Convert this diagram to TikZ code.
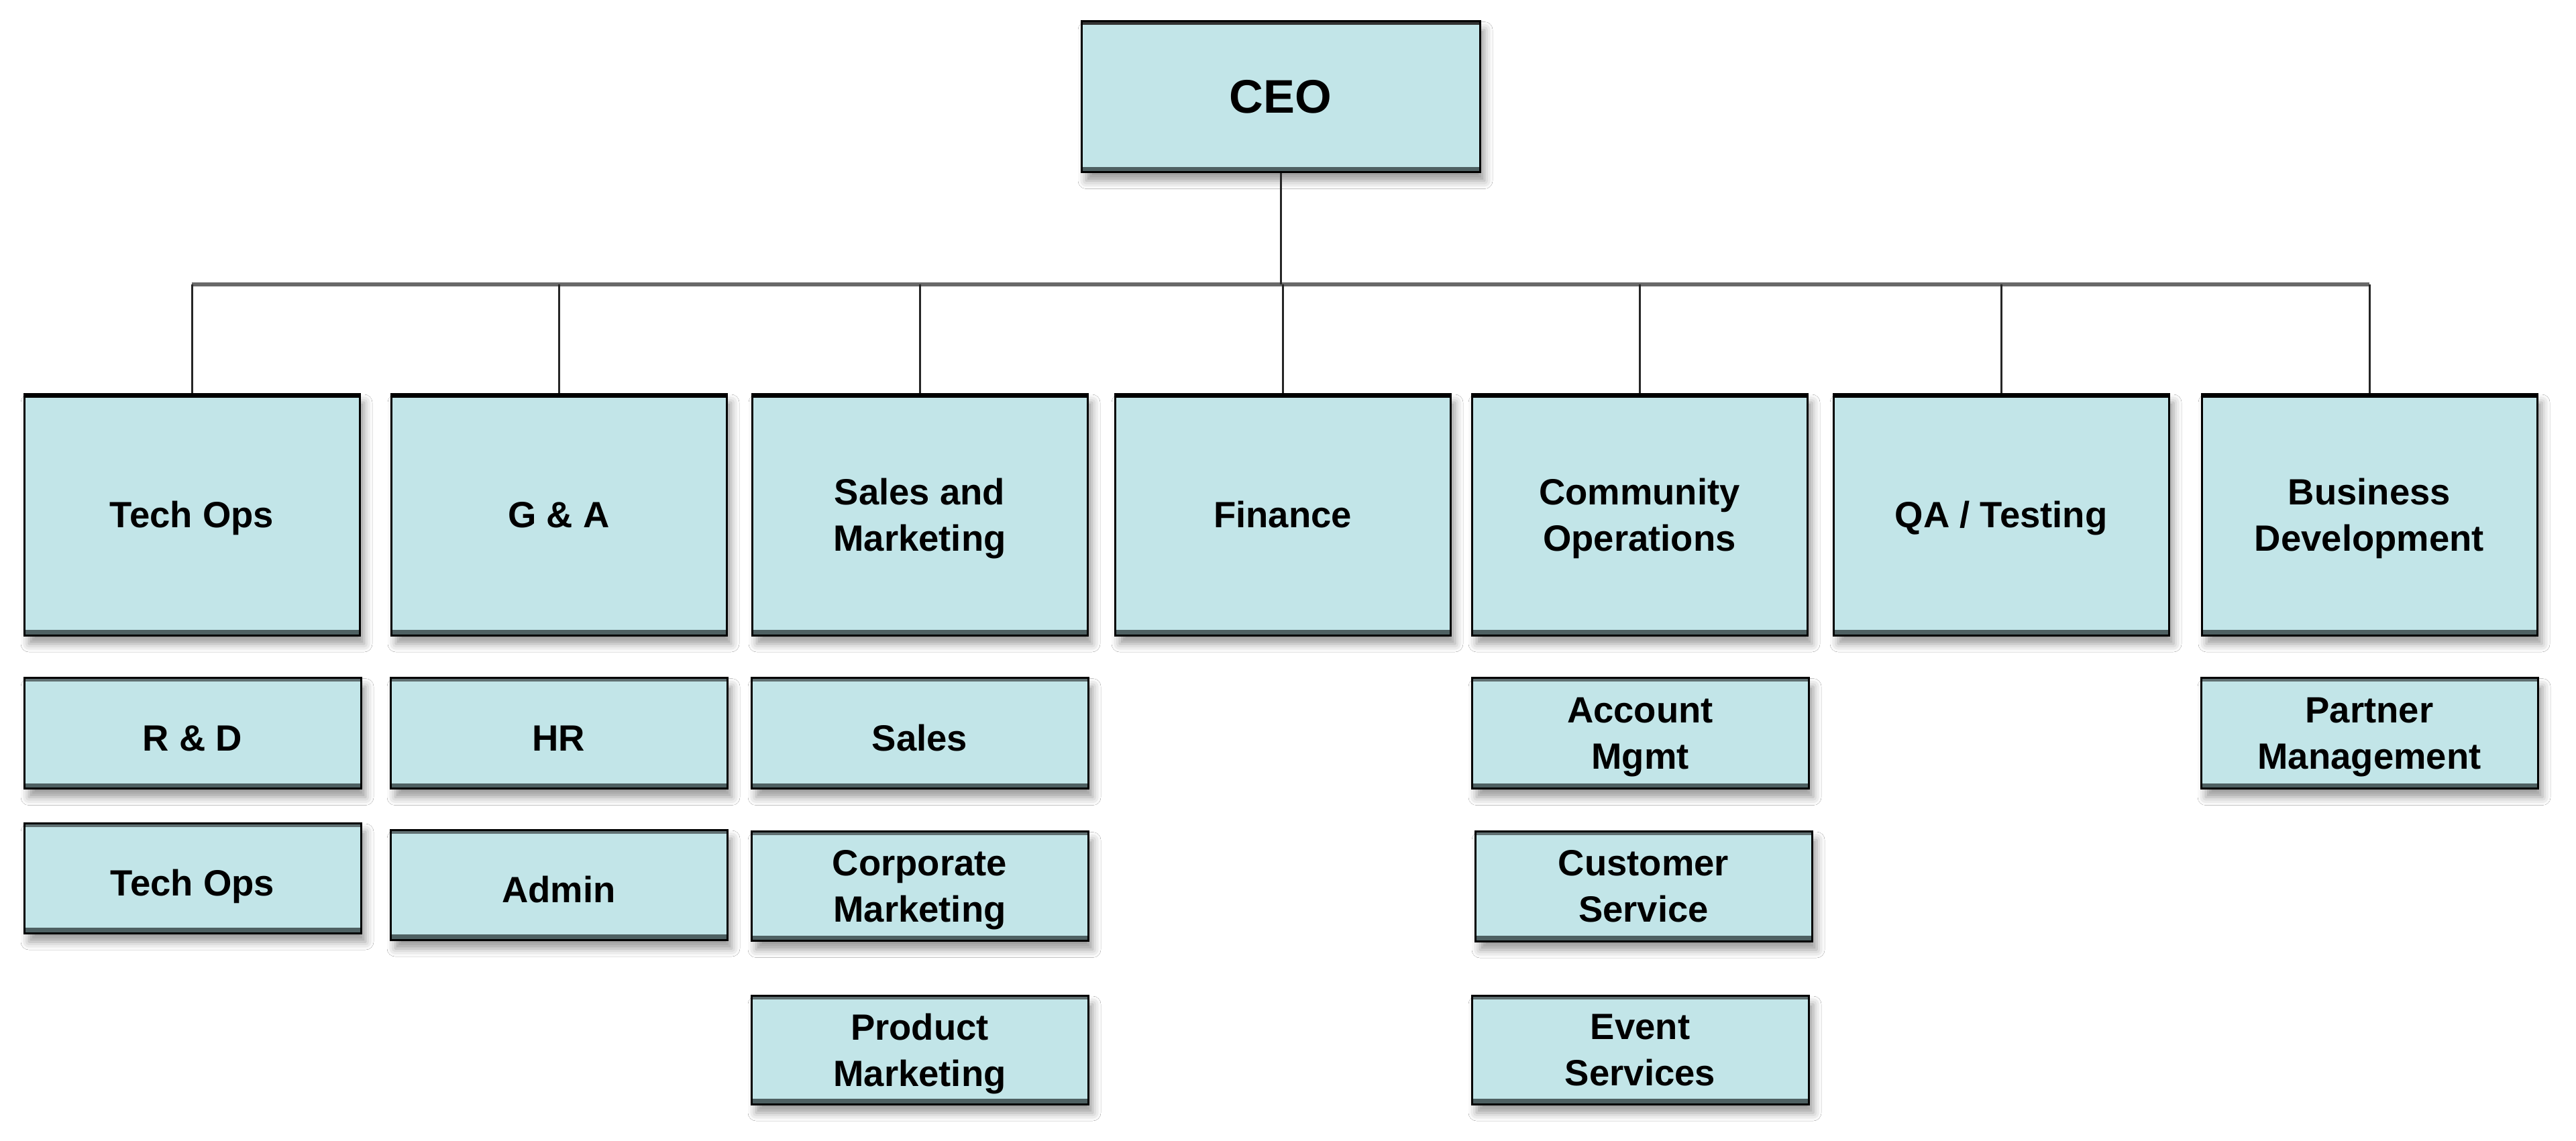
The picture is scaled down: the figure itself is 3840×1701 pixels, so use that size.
\documentclass[tikz,border=0pt]{standalone}
\usepackage{fontspec}
\setmainfont{Liberation Sans}
\usetikzlibrary{shadows.blur}
\definecolor{boxfill}{RGB}{194,229,232}
\definecolor{boxedge}{RGB}{78,96,98}
\definecolor{topedge}{RGB}{96,112,114}
\definecolor{buscol}{RGB}{105,105,105}
\tikzset{
  orgbox/.style={draw=black, line width=0.3mm, fill=boxfill, align=center,
    font=\bfseries\fontsize{15.5}{19.6}\selectfont, inner sep=0pt, text depth=0pt,
    minimum width=50mm,
    blur shadow={shadow xshift=0.7mm, shadow yshift=-1.3mm, shadow blur radius=1.2mm, shadow opacity=40},
    path picture={\fill[boxedge] ([yshift=0.8mm]path picture bounding box.south west) rectangle (path picture bounding box.south east);
                  \fill[topcol] ([yshift=-\topband]path picture bounding box.north west) rectangle (path picture bounding box.north east);}},
  topcol/.style={fill=topedge},
  headbox/.style={orgbox, minimum height=36mm, topcol/.style={fill=black}},
  subbox/.style={orgbox, minimum width=50.2mm},
  oneline/.style={text height=5.3mm, text depth=0pt},
  ceobox/.style={orgbox, minimum width=59.4mm, minimum height=22.5mm, font=\bfseries\fontsize{20}{23}\selectfont, topcol/.style={fill=black!80}},
  link/.style={draw=black!85, line width=0.3mm},
  buslink/.style={draw=buscol, line width=0.6mm}
}
\newcommand{\topband}{0.55mm}
\begin{document}
\begin{tikzpicture}[x=0.1mm, y=-0.1mm]
\useasboundingbox[fill=white] (0,0) rectangle (3840,1701);
% CEO
\node[ceobox] (ceo) at (1909,144) {CEO};
% level 2
\node[headbox] (techops) at (286,767) {Tech Ops};
\node[headbox] (ga) at (833,767) {G \& A};
\node[headbox] (sm) at (1371,767) {Sales and\\Marketing};
\node[headbox] (fin) at (1912,767) {Finance};
\node[headbox] (comm) at (2444,767) {Community\\Operations};
\node[headbox] (qa) at (2983,767) {QA / Testing};
\node[headbox] (bd) at (3532,767) {Business\\Development};
% level 3
\node[subbox, oneline, minimum height=16.5mm] (rd) at (287,1093) {R \& D};
\node[subbox, oneline, minimum height=16.4mm] (techops2) at (287,1309) {Tech Ops};
\node[subbox, oneline, minimum height=16.5mm] (hr) at (833,1093) {HR};
\node[subbox, oneline, minimum height=16.4mm] (admin) at (833,1319) {Admin};
\node[subbox, oneline, minimum height=16.5mm] (sales) at (1371,1093) {Sales};
\node[subbox, minimum height=16.3mm] (corp) at (1371,1321) {Corporate\\Marketing};
\node[subbox, minimum height=16.2mm] (prod) at (1371,1565) {Product\\Marketing};
\node[subbox, minimum height=16.5mm] (acct) at (2445,1093) {Account\\Mgmt};
\node[subbox, minimum height=16.4mm] (cust) at (2450,1321) {Customer\\Service};
\node[subbox, minimum height=16.2mm] (event) at (2445,1565) {Event\\Services};
\node[subbox, minimum height=16.5mm] (partner) at (3532,1093) {Partner\\Management};
% connectors
\coordinate (bus) at (1912,424);
\draw[buslink] (techops.north |- bus) -- (bd.north |- bus);
\draw[link] (ceo.south) -- (ceo.south |- bus);
\foreach \n in {techops,ga,sm,fin,comm,qa,bd}
  \draw[link] (\n.north |- bus) -- (\n.north);
\end{tikzpicture}
\end{document}
